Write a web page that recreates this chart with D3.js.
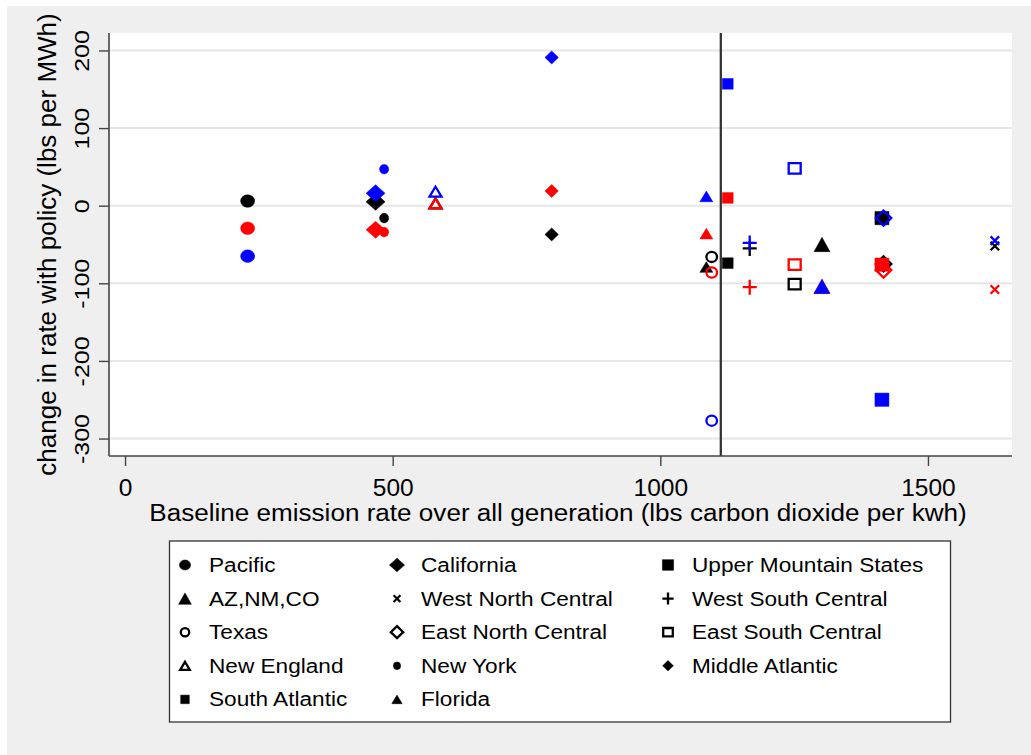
<!DOCTYPE html>
<html>
<head>
<meta charset="utf-8">
<script src="https://cdn.jsdelivr.net/npm/d3@7"></script>
<style>
  body { margin: 0; background: #fff; }
  svg text { font-family: "Liberation Sans", Arial, sans-serif; fill: #000; }
</style>
</head>
<body>
<div id="viz"></div>
<script>
// regions, in legend order
let regions = ['Pacific', 'California', 'Upper Mountain States', 'AZ,NM,CO',
  'West North Central', 'West South Central', 'Texas', 'East North Central',
  'East South Central', 'New England', 'New York', 'Middle Atlantic',
  'South Atlantic', 'Florida'];

// baseline emission rate (lbs CO2 per kwh)
let baseline = [229, 468, 1414, 1302, 1625, 1167, 1096, 1417, 1251, 580, 484, 797, 1126, 1086];

// change in rate with policy, three runs (black, red, blue)
let changeBlack = [6, 5, -16, -50, -52, -55, -66, -75, -101, 3, -16, -37, -74, -79];
let changeRed = [-29, -31, -76, -104, -108, -105, -86, -83, -76, 3, -34, 19, 10, -36];
let changeBlue = [-65, 16, -250, -104, -45, -48, -277, -16, 48, 18, 47, 191, 157, 12];

let meanRate = 1113;

let xTicks = [0, 500, 1000, 1500];
let yTicks = [200, 100, 0, -100, -200, -300];

// marker style for each region (same order as regions)
let markers = [
  { shape: 'circle', w: 14, h: 12.6, fill: true },
  { shape: 'diamond', w: 19, h: 17, fill: true },
  { shape: 'square', w: 14, h: 13.3, fill: true },
  { shape: 'triangle', w: 16, h: 14.3, fill: true },
  { shape: 'x', w: 8.5, h: 8.5, fill: false },
  { shape: 'plus', w: 14, h: 15, fill: false },
  { shape: 'circle', w: 10.6, h: 10.2, fill: false },
  { shape: 'diamond', w: 15.5, h: 15, fill: false },
  { shape: 'square', w: 12, h: 10.5, fill: false },
  { shape: 'triangle', w: 12, h: 10, fill: false },
  { shape: 'circle', w: 9.2, h: 9.6, fill: true },
  { shape: 'diamond', w: 13.5, h: 13, fill: true },
  { shape: 'square', w: 10.8, h: 10.7, fill: true },
  { shape: 'triangle', w: 13, h: 10.7, fill: true }
];

let W = 1031, H = 755;
let plot = { left: 109, right: 1012, top: 33, bottom: 456 };

let svg = d3.select('#viz').append('svg')
  .attr('width', W)
  .attr('height', H);

svg.append('rect')
  .attr('x', 7).attr('y', 6)
  .attr('width', W - 7).attr('height', H - 6)
  .attr('fill', '#efefef');

svg.append('rect')
  .attr('x', plot.left).attr('y', plot.top)
  .attr('width', plot.right - plot.left).attr('height', plot.bottom - plot.top)
  .attr('fill', '#fff');

let x = d3.scaleLinear().domain([-30, 1657]).range([plot.left, plot.right]);
let y = d3.scaleLinear().domain([-322.5, 222.5]).range([plot.bottom, plot.top]);

// gridlines
svg.append('g')
  .selectAll('line')
  .data(yTicks)
  .join('line')
  .attr('x1', plot.left).attr('x2', plot.right)
  .attr('y1', d => y(d)).attr('y2', d => y(d))
  .attr('stroke', '#e6e6e6')
  .attr('stroke-width', 2);

function markerPath(shape, w, h) {
  let a = w / 2, b = h / 2;
  if (shape === 'circle') {
    return `M${-a},0A${a},${b} 0 1,0 ${a},0A${a},${b} 0 1,0 ${-a},0Z`;
  } else if (shape === 'diamond') {
    return `M0,${-b}L${a},0L0,${b}L${-a},0Z`;
  } else if (shape === 'square') {
    return `M${-a},${-b}H${a}V${b}H${-a}Z`;
  } else if (shape === 'triangle') {
    return `M0,${-b}L${a},${b}L${-a},${b}Z`;
  } else if (shape === 'x') {
    return `M${-a},${-b}L${a},${b}M${-a},${b}L${a},${-b}`;
  } else {
    return `M${-a},0H${a}M0,${-b}V${b}`;
  }
}

function drawMarker(g, m, cx, cy, color, k) {
  let solid = m.fill;
  g.append('path')
    .attr('d', markerPath(m.shape, m.w * k, m.h * k))
    .attr('transform', `translate(${cx},${cy})`)
    .attr('fill', solid ? color : 'none')
    .attr('stroke', color)
    .attr('stroke-width', solid ? 0.5 : 2.3)
    .attr('stroke-linejoin', 'miter');
}

// points: all black first, then red, then blue
let runs = [
  { values: changeBlack, color: '#000000' },
  { values: changeRed, color: '#ff0000' },
  { values: changeBlue, color: '#0000ff' }
];

let pts = svg.append('g');
runs.forEach(run => {
  regions.forEach((r, i) => {
    drawMarker(pts, markers[i], x(baseline[i]), y(run.values[i]), run.color, 1);
  });
});

// mean line
svg.append('line')
  .attr('x1', x(meanRate)).attr('x2', x(meanRate))
  .attr('y1', plot.top).attr('y2', plot.bottom)
  .attr('stroke', '#333')
  .attr('stroke-width', 2.3);

// axes (plain hyphen minus, no thousands separator)
let fmt = d => String(d);

let yAxis = svg.append('g')
  .attr('transform', `translate(${plot.left},0)`)
  .call(d3.axisLeft(y).tickValues(yTicks).tickFormat(fmt).tickSize(10).tickSizeOuter(0));

yAxis.select('.domain').attr('stroke', '#444').attr('stroke-width', 1.6)
  .attr('d', `M0,${plot.top}V${plot.bottom}`);
yAxis.selectAll('.tick line').attr('stroke', '#444').attr('stroke-width', 1.4);
yAxis.selectAll('.tick text')
  .attr('x', null).attr('dy', null)
  .attr('text-anchor', 'middle')
  .attr('transform', 'translate(-20.5,0) rotate(-90) scale(1.19,1)')
  .style('font-size', '21px')
  .style('font-family', '"Liberation Sans", Arial, sans-serif');

let xAxis = svg.append('g')
  .attr('transform', `translate(0,${plot.bottom})`)
  .call(d3.axisBottom(x).tickValues(xTicks).tickFormat(fmt).tickSize(10).tickSizeOuter(0));

xAxis.select('.domain').attr('stroke', '#444').attr('stroke-width', 1.6)
  .attr('d', `M${plot.left},0H${plot.right}`);
xAxis.selectAll('.tick line').attr('stroke', '#444').attr('stroke-width', 1.4);
xAxis.selectAll('.tick text')
  .attr('y', 40).attr('dy', null)
  .style('font-size', '24.5px')
  .style('font-family', '"Liberation Sans", Arial, sans-serif');

// titles
svg.append('text')
  .text('Baseline emission rate over all generation (lbs carbon dioxide per kwh)')
  .attr('text-anchor', 'middle')
  .attr('transform', 'translate(558,520.5) scale(1.12,1)')
  .style('font-size', '23.3px');

svg.append('text')
  .text('change in rate with policy (lbs per MWh)')
  .attr('text-anchor', 'middle')
  .attr('transform', `translate(56,${(plot.top + plot.bottom) / 2}) rotate(-90)`)
  .style('font-size', '26px');

// legend
let legend = svg.append('g');
legend.append('rect')
  .attr('x', 169.5).attr('y', 541)
  .attr('width', 781).attr('height', 181)
  .attr('fill', '#fff')
  .attr('stroke', '#333')
  .attr('stroke-width', 1.3);

let colX = [185, 397, 668];
let rowY = d3.range(5).map(i => 565 + i * 33.6);

regions.forEach((r, i) => {
  let col = i % 3, row = Math.floor(i / 3);
  drawMarker(legend, markers[i], colX[col], rowY[row], '#000', 0.8);
  legend.append('text')
    .text(r)
    .attr('transform', `translate(${colX[col] + 24},${rowY[row] + 7}) scale(1.16,1)`)
    .style('font-size', '19.5px');
});
</script>
</body>
</html>
